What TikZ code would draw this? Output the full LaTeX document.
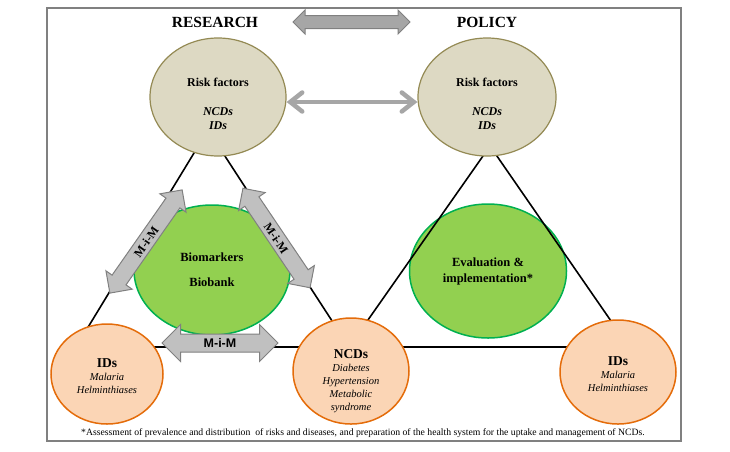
\documentclass[tikz,border=0pt]{standalone}
\usepackage{fontspec}
\setmainfont{Liberation Serif}
\newfontfamily\arialfont{Liberation Sans}
\usepackage[dvipsnames]{xcolor}
\usepackage{tikz}
\usetikzlibrary{arrows.meta,shapes.arrows,shapes.geometric}

\definecolor{riskfill}{HTML}{DDD9C3}
\definecolor{riskline}{HTML}{948A54}
\definecolor{biofill}{HTML}{92D050}
\definecolor{bioline}{HTML}{00B050}
\definecolor{illfill}{HTML}{FBD5B5}
\definecolor{illline}{HTML}{E46C0A}
\definecolor{mimfill}{HTML}{C0C0C0}
\definecolor{mimline}{HTML}{808080}
\definecolor{linkgray}{HTML}{A6A6A6}

\begin{document}
\begin{tikzpicture}[x=1pt, y=1pt, thick,
    riskbox/.style={ellipse, draw=riskline, fill=riskfill, line width=1.2pt, inner sep=0pt},
    risktext/.style={align=center, font=\bfseries\fontsize{12}{14}\selectfont},
    bioball/.style={ellipse, draw=bioline, fill=biofill, line width=1.5pt, inner sep=0pt, align=center, font=\bfseries\fontsize{12.5}{16}\selectfont},
    illbox/.style={ellipse, draw=illline, fill=illfill, line width=1.5pt, inner sep=0pt},
    illtext/.style={align=center, font=\fontsize{10.5}{13}\selectfont},
    mimarrow/.style={double arrow, draw=mimline, fill=mimfill, line width=1pt, double arrow head extend=7.5pt, double arrow head indent=0pt, text height=9pt, text depth=0pt, inner xsep=0pt, inner ysep=3.5pt, minimum width=0pt, font=\bfseries\fontsize{12}{14}\selectfont},
    title/.style={font=\bfseries\fontsize{15.5}{18}\selectfont}]
    \useasboundingbox (0,0) rectangle (730,-451);
    % frame
    \draw[mimline, line width=1.2pt] (47,-8) rectangle (681,-441);
    % headings
    \node[title] (research) at (215,-22) {RESEARCH};
    \node[title] (policy) at (487,-22) {POLICY};
    \node[mimarrow, fill=linkgray, double arrow head extend=5.5pt, text height=0pt, inner ysep=6pt, minimum height=117pt] (link) at (351.5,-22) {};
    % green circles
    \node[bioball, minimum width=156pt, minimum height=130pt] (bio) at (212,-270) {Biomarkers\\[9pt]Biobank};
    \node[bioball, minimum width=157pt, minimum height=134pt] (eval) at (488,-271) {Evaluation \&\\implementation*};
    % triangles
    \coordinate (topL) at (208,-130);
    \coordinate (leftL) at (76,-347);
    \coordinate (mid) at (349,-347);
    \coordinate (topR) at (490,-146);
    \coordinate (rightR) at (629,-347);
    \draw[line width=1.6pt, line join=round] (topL) -- (leftL) -- (mid) -- cycle;
    \draw[line width=1.6pt, line join=round] (topR) -- (mid) -- (rightR) -- cycle;
    % risk factors
    \node[riskbox, minimum width=136pt, minimum height=118pt] (riskL) at (218,-97) {};
    \node[riskbox, minimum width=138pt, minimum height=118pt] (riskR) at (487,-97) {};
    \node[risktext] (riskLtext) at ([yshift=-7pt]riskL.center) {Risk factors\\[15pt]\textit{NCDs}\\\textit{IDs}};
    \node[risktext] (riskRtext) at ([yshift=-7pt]riskR.center) {Risk factors\\[15pt]\textit{NCDs}\\\textit{IDs}};
    \draw[linkgray, line width=4.5pt, line cap=round, {Straight Barb[length=12pt,width=19pt,line cap=round]}-{Straight Barb[length=12pt,width=19pt,line cap=round]}]
        ([yshift=-5pt]riskL.east) -- ([yshift=-5pt]riskR.west);
    % diseases
    \node[illbox, minimum width=112pt, minimum height=100pt] (idsL) at (107,-374) {};
    \node[illbox, minimum width=116pt, minimum height=106pt] (ncds) at (351,-371) {};
    \node[illbox, minimum width=116pt, minimum height=104pt] (idsR) at (618,-372) {};
    \node[illtext] (idsLtext) at ([yshift=-2pt]idsL.center) {{\bfseries\fontsize{13.5}{15}\selectfont IDs}\\\textit{Malaria}\\\textit{Helminthiases}};
    \node[illtext] (ncdstext) at ([yshift=-10pt]ncds.center) {{\bfseries\fontsize{13.5}{15}\selectfont NCDs}\\\textit{Diabetes}\\\textit{Hypertension}\\\textit{Metabolic}\\\textit{syndrome}};
    \node[illtext] (idsRtext) at ([yshift=-2pt]idsR.center) {{\bfseries\fontsize{13.5}{15}\selectfont IDs}\\\textit{Malaria}\\\textit{Helminthiases}};
    % M-i-M arrows
    \node[mimarrow, rotate=55, minimum height=126pt] (mimL) at (146,-241.5) {M-i-M};
    \node[mimarrow, rotate=-56, minimum height=120pt] (mimR) at (276.5,-238) {M-i-M};
    \node[mimarrow, double arrow head extend=9.5pt, text height=9pt, inner ysep=4pt, minimum height=116pt, font=\arialfont\bfseries\fontsize{12.5}{14}\selectfont] (mimB) at (220,-343) {M-i-M};
    % footnote
    \node[font=\fontsize{9.7}{11}\selectfont] (note) at (363,-433) {*Assessment of prevalence and distribution~ of risks and diseases, and preparation of the health system for the uptake and management of NCDs.};
\end{tikzpicture}
\end{document}
